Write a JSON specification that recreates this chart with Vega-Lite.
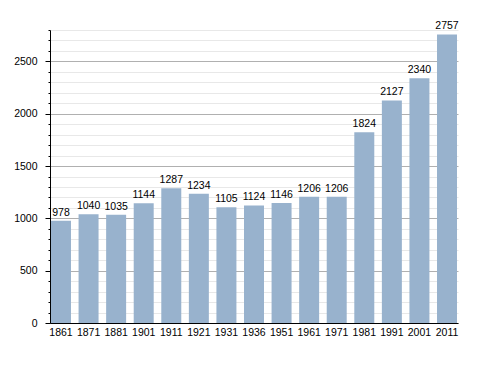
{
  "$schema": "https://vega.github.io/schema/vega-lite/v6.json",
  "autosize": "none",
  "padding": {"left": 50, "top": 30, "right": 30, "bottom": 50},
  "width": 408,
  "height": 293,
  "background": "white",
  "config": {
    "view": {"stroke": null},
    "font": "Liberation Sans"
  },
  "data": {
    "values": [
      {"year": "1861", "pop": 978},
      {"year": "1871", "pop": 1040},
      {"year": "1881", "pop": 1035},
      {"year": "1901", "pop": 1144},
      {"year": "1911", "pop": 1287},
      {"year": "1921", "pop": 1234},
      {"year": "1931", "pop": 1105},
      {"year": "1936", "pop": 1124},
      {"year": "1951", "pop": 1146},
      {"year": "1961", "pop": 1206},
      {"year": "1971", "pop": 1206},
      {"year": "1981", "pop": 1824},
      {"year": "1991", "pop": 2127},
      {"year": "2001", "pop": 2340},
      {"year": "2011", "pop": 2757}
    ]
  },
  "encoding": {
    "x": {
      "field": "year", "type": "ordinal", "sort": null,
      "scale": {"paddingInner": 0.275, "paddingOuter": 0.036},
      "axis": {
        "title": null, "labelAngle": 0, "ticks": false, "domainColor": "black",
        "labelColor": "black", "labelFontSize": 10.5, "labelPadding": 4
      }
    },
    "y": {
      "field": "pop", "type": "quantitative",
      "scale": {"domain": [0, 2800], "nice": false},
      "axis": {
        "title": null,
        "values": [0,100,200,300,400,500,600,700,800,900,1000,1100,1200,1300,1400,1500,1600,1700,1800,1900,2000,2100,2200,2300,2400,2500,2600,2700,2800],
        "labelExpr": "datum.value % 500 === 0 ? datum.label : ''",
        "format": "d",
        "grid": true,
        "gridColor": {"condition": {"test": "datum.value % 500 === 0", "value": "#b0b0b0"}, "value": "#e8e8e8"},
        "tickColor": "black",
        "tickSize": {"condition": {"test": "datum.value % 500 === 0", "value": 5}, "value": 2},
        "domainColor": "black",
        "labelColor": "black",
        "labelFontSize": 10.5,
        "labelPadding": 8
      }
    }
  },
  "layer": [
    {"mark": {"type": "bar", "color": "#98b2cd"}},
    {
      "mark": {"type": "text", "baseline": "bottom", "dy": -3, "fontSize": 10.5, "color": "black"},
      "encoding": {"text": {"field": "pop", "type": "quantitative", "format": "d"}}
    }
  ]
}
